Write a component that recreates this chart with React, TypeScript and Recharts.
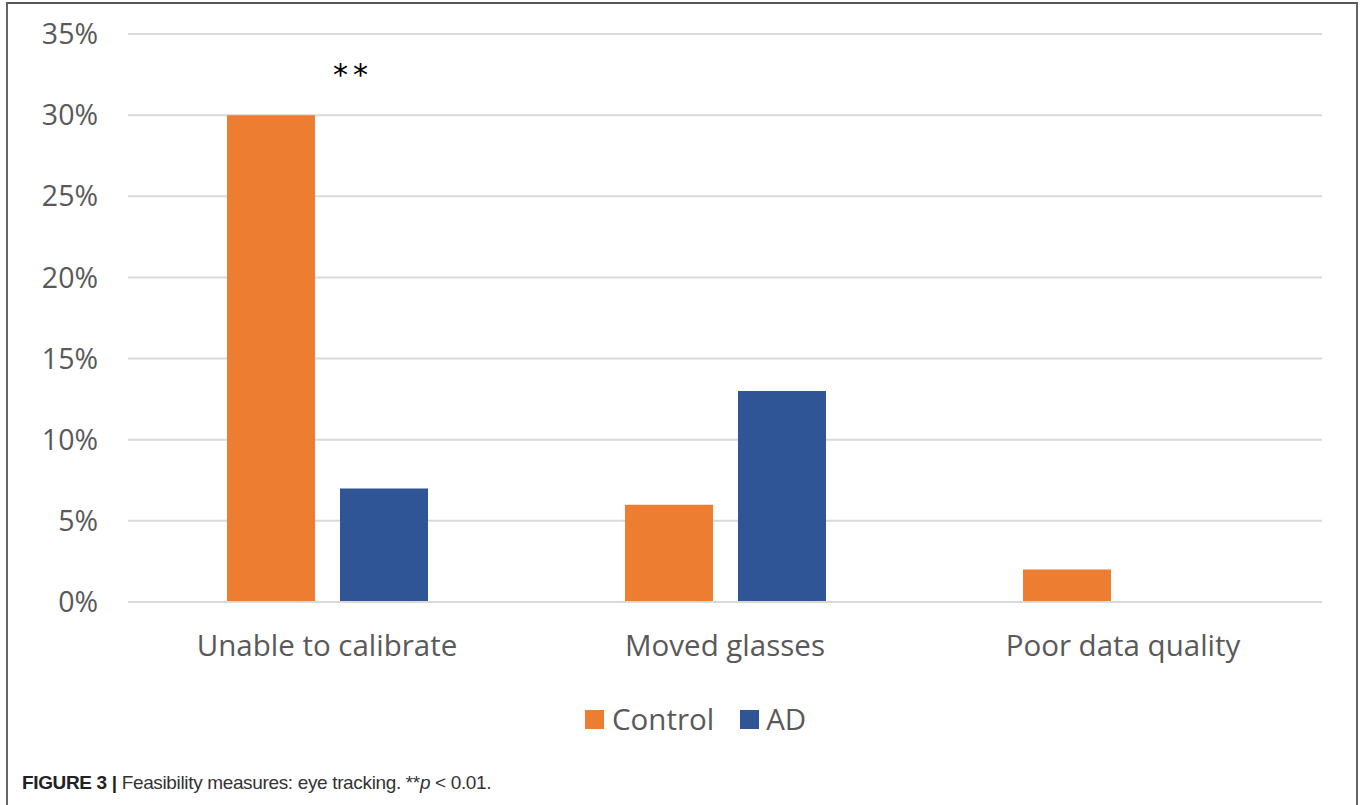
import React from 'react'
import { BarChart, Bar, XAxis, YAxis, CartesianGrid, LabelList } from 'recharts'

const categories = ['Unable to calibrate', 'Moved glasses', 'Poor data quality']
const controlValues = [30, 6, 2]
const adValues = [7, 13, 0]
const yTicks = [0, 5, 10, 15, 20, 25, 30, 35]
const significance = ['**', '', '']

const ORANGE = '#ED7D31'
const BLUE = '#2F5597'
const FONT = "'Open Sans', sans-serif"

const chartData = categories.map((name, i) => ({
  name,
  control: controlValues[i],
  ad: adValues[i],
  sig: significance[i],
}))

const SigLabel = (props: any) => {
  const { x, y, width, index } = props
  const mark = significance[index]
  if (!mark) return null
  return (
    <text x={x + width + 38} y={y - 30} textAnchor="middle" fill="#000" fontSize={30} letterSpacing={5} fontFamily="'DejaVu Sans', sans-serif">
      {mark}
    </text>
  )
}

export default function App() {
  return (
    <div style={{ position: 'absolute', left: 0, top: 0, width: 1363, height: 805, background: '#fff', overflow: 'hidden' }}>
      <div style={{ position: 'absolute', left: 6, top: 2, width: 1348, height: 820, borderTop: '2px solid #555', borderLeft: '2px solid #666', borderRight: '2px solid #666' }} />
      <div style={{ position: 'absolute', left: 0, top: 0 }}>
        <BarChart width={1363} height={680} data={chartData} margin={{ top: 34, right: 41, bottom: 0, left: 0 }} barSize={88} barGap={25}>
          <CartesianGrid vertical={false} stroke="#D9D9D9" strokeWidth={2} />
          <XAxis
            dataKey="name"
            height={78}
            axisLine={{ stroke: '#D9D9D9', strokeWidth: 2 }}
            tickLine={false}
            tickSize={0}
            tickMargin={33}
            tick={{ fill: '#595959', fontSize: 29.5, fontFamily: FONT }}
          />
          <YAxis
            width={128}
            domain={[0, 35]}
            ticks={yTicks}
            interval={0}
            axisLine={false}
            tickLine={false}
            tickSize={0}
            tickMargin={30}
            tickFormatter={(v: number) => `${v}%`}
            tick={{ fill: '#595959', fontSize: 28.5, fontFamily: FONT }}
          />
          <Bar dataKey="control" fill={ORANGE} isAnimationActive={false}>
            <LabelList dataKey="sig" content={SigLabel} />
          </Bar>
          <Bar dataKey="ad" fill={BLUE} isAnimationActive={false} />
        </BarChart>
      </div>
      <div style={{ position: 'absolute', top: 699, left: 585, display: 'flex', alignItems: 'center', fontFamily: FONT, fontSize: 29.5, color: '#595959', lineHeight: '40px' }}>
        <span style={{ width: 19, height: 19, background: ORANGE, display: 'inline-block', marginRight: 8 }} />
        <span style={{ marginRight: 26 }}>Control</span>
        <span style={{ width: 19, height: 19, background: BLUE, display: 'inline-block', marginRight: 7 }} />
        <span>AD</span>
      </div>
      <div style={{ position: 'absolute', top: 772, left: 22, fontFamily: "'Liberation Sans', Arial, sans-serif", fontSize: 19, color: '#333', letterSpacing: -0.35 }}>
        <b style={{ color: '#222' }}>FIGURE 3 |</b> Feasibility measures: eye tracking. **<i>p</i> &lt; 0.01.
      </div>
    </div>
  )
}
